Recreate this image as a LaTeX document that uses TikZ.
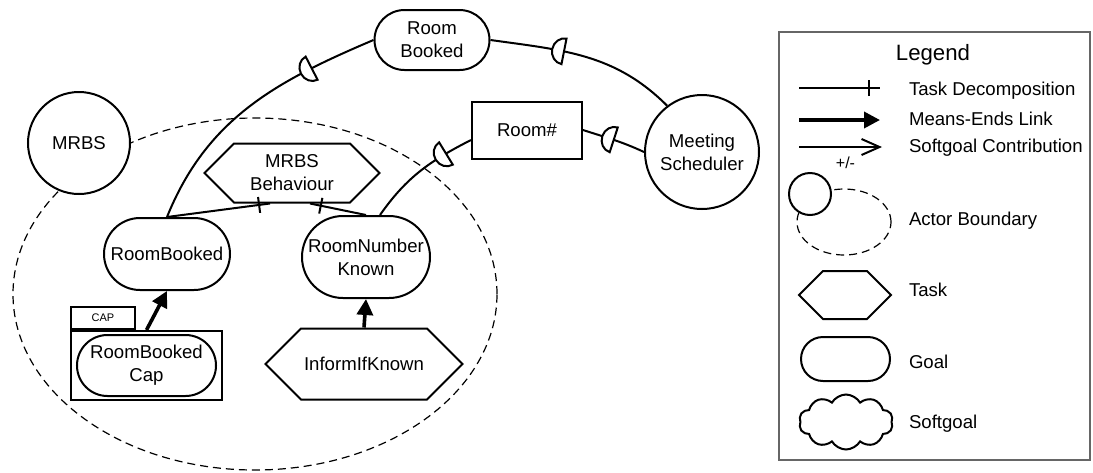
\documentclass[tikz,border=0pt]{standalone}
\usepackage{fontspec}
\setmainfont{Liberation Sans}
\usetikzlibrary{positioning,shapes.misc,shapes.symbols,arrows.meta,decorations.markings}

% la "D" de una dependencia, con la parte plana hacia el dependee
\newcommand{\depD}{\draw[fill=white] (2.5pt,6.5pt) -- (2.5pt,-6.5pt) arc[start angle=-90, end angle=-270, x radius=6pt, y radius=6.5pt] -- cycle;}

\begin{document}
\begin{tikzpicture}[x=0.5pt, y=0.5pt, line width=1pt,
            font=\fontsize{9.3}{11.5}\selectfont,
            actor/.style ={circle, draw, fill=white, inner sep=0pt, align=center},
            goal/.style ={rounded rectangle, draw, fill=white, inner sep=1pt, align=center},
            task/.style ={signal, signal to=east and west, signal pointer angle=90,
                          draw, fill=white, inner sep=1pt, align=center},
            res/.style ={rectangle, draw, fill=white},
            soft/.style ={cloud, cloud puffs=10, cloud puff arc=120, aspect=1.7, draw, fill=white},
            boundary/.style ={draw, dash pattern=on 4pt off 2.5pt, line width=0.6pt},
            decomp/.style ={postaction={decorate}, decoration={markings,
                          mark=at position -5.5pt with {\draw (0pt,-4pt) -- (0pt,4pt);}}},
            meansend/.style ={line width=1.8pt, -{Triangle[length=8pt,width=8pt]}},
            contrib/.style ={-{Straight Barb[length=9pt,width=8pt]}},
            dep/.style ={postaction={decorate}, decoration={markings,
                          mark=at position #1 with {\depD}}},
            lab/.style ={anchor=base west, inner sep=0pt}]

        \useasboundingbox (0,0) rectangle (1093,-472);

        % frontera del actor MRBS
        \draw[boundary] (255,-294) ellipse [x radius=242, y radius=176];

        \node[actor, minimum size=51pt] (mrbs) at (79,-143) {MRBS};
        \node[actor, minimum size=57pt] (ms) at (702,-152) {Meeting\\Scheduler};

        \node[goal, minimum width=59.5pt, minimum height=30pt] (rbd) at (432,-40) {Room\\Booked};
        \node[res, minimum width=55pt, minimum height=28.5pt] (room) at (527,-130) {Room\#};

        \node[task, minimum width=87.5pt, minimum height=29.5pt] (beh) at (292,-173) {MRBS\\Behaviour};
        \node[goal, minimum width=65pt, minimum height=36pt] (rb) at (167,-254) {RoomBooked};
        \node[goal, minimum width=66pt, minimum height=41pt] (rnk) at (366,-257) {RoomNumber\\Known};

        \node[res, minimum width=75.5pt, minimum height=34.5pt] (capbox) at (146.5,-365.5) {};
        \node[res, minimum width=32pt, minimum height=11pt, inner sep=0pt, anchor=south west,
              font=\fontsize{5.5}{6}\selectfont] (captab) at (capbox.north west) {CAP};
        \node[goal, minimum width=71.5pt, minimum height=30.5pt] (rbc) at (capbox.center) {RoomBooked\\Cap};
        \node[task, minimum width=98.5pt, minimum height=35.5pt] (inf) at (364,-364) {InformIfKnown};

        % descomposicion de la tarea
        \path (rb.north) edge[decomp] ([xshift=-11pt]beh.south);
        \path (rnk.north) edge[decomp] ([xshift=9pt]beh.south);

        % medios-fines
        \path (capbox.north) edge[meansend] (rb.south);
        \path (inf.north) edge[meansend] (rnk.south);

        % dependencias
        \path (rb.north) edge[dep=0.74, out=68, in=-157] (rbd.west);
        \path (rbd.east) edge[dep=0.36, out=-8, in=135] (ms.127);
        \path ([xshift=7pt]rnk.north) edge[dep=0.72, out=55, in=-153] ([yshift=-5pt]room.west);
        \path (room.east) edge[dep=0.42, out=-18, in=155] (ms.west);

        % leyenda
        \draw[black!60] (779,-32) rectangle (1090,-460);
        \node[font=\fontsize{11.1}{13}\selectfont] (legtitle) at (933,-55) {Legend};

        \coordinate (td1) at (799,-88);
        \coordinate (td2) at (880,-88);
        \path (td1) edge[decomp] (td2);
        \node[lab] (ltd) at (908,-95) {Task Decomposition};

        \coordinate (me1) at (799,-120);
        \coordinate (me2) at (880,-120);
        \path (me1) edge[meansend] (me2);
        \node[lab] (lme) at (908,-125) {Means-Ends Link};

        \coordinate (sc1) at (799,-147);
        \coordinate (sc2) at (882,-147);
        \path (sc1) edge[contrib] node[below=1pt, pos=0.56, font=\fontsize{8}{9}\selectfont] {+/-} (sc2);
        \node[lab] (lsc) at (908,-152) {Softgoal Contribution};

        \draw[boundary] (844,-222) ellipse [x radius=47, y radius=33];
        \node[actor, minimum size=21pt] (lac) at (810,-194) {};
        \node[lab] (lab) at (908,-225) {Actor Boundary};

        \node[task, minimum width=46pt, minimum height=24pt] (ltask) at (845,-295) {};
        \node[lab] (ltk) at (908,-296) {Task};

        \node[goal, minimum width=46.5pt, minimum height=22pt] (lgoal) at (845.5,-359) {};
        \node[lab] (lgl) at (908,-368) {Goal};

        \node[soft, minimum width=47pt, minimum height=27.5pt] (lsoft) at (846,-422) {};
        \node[lab] (lsg) at (908,-428) {Softgoal};

\end{tikzpicture}
\end{document}
